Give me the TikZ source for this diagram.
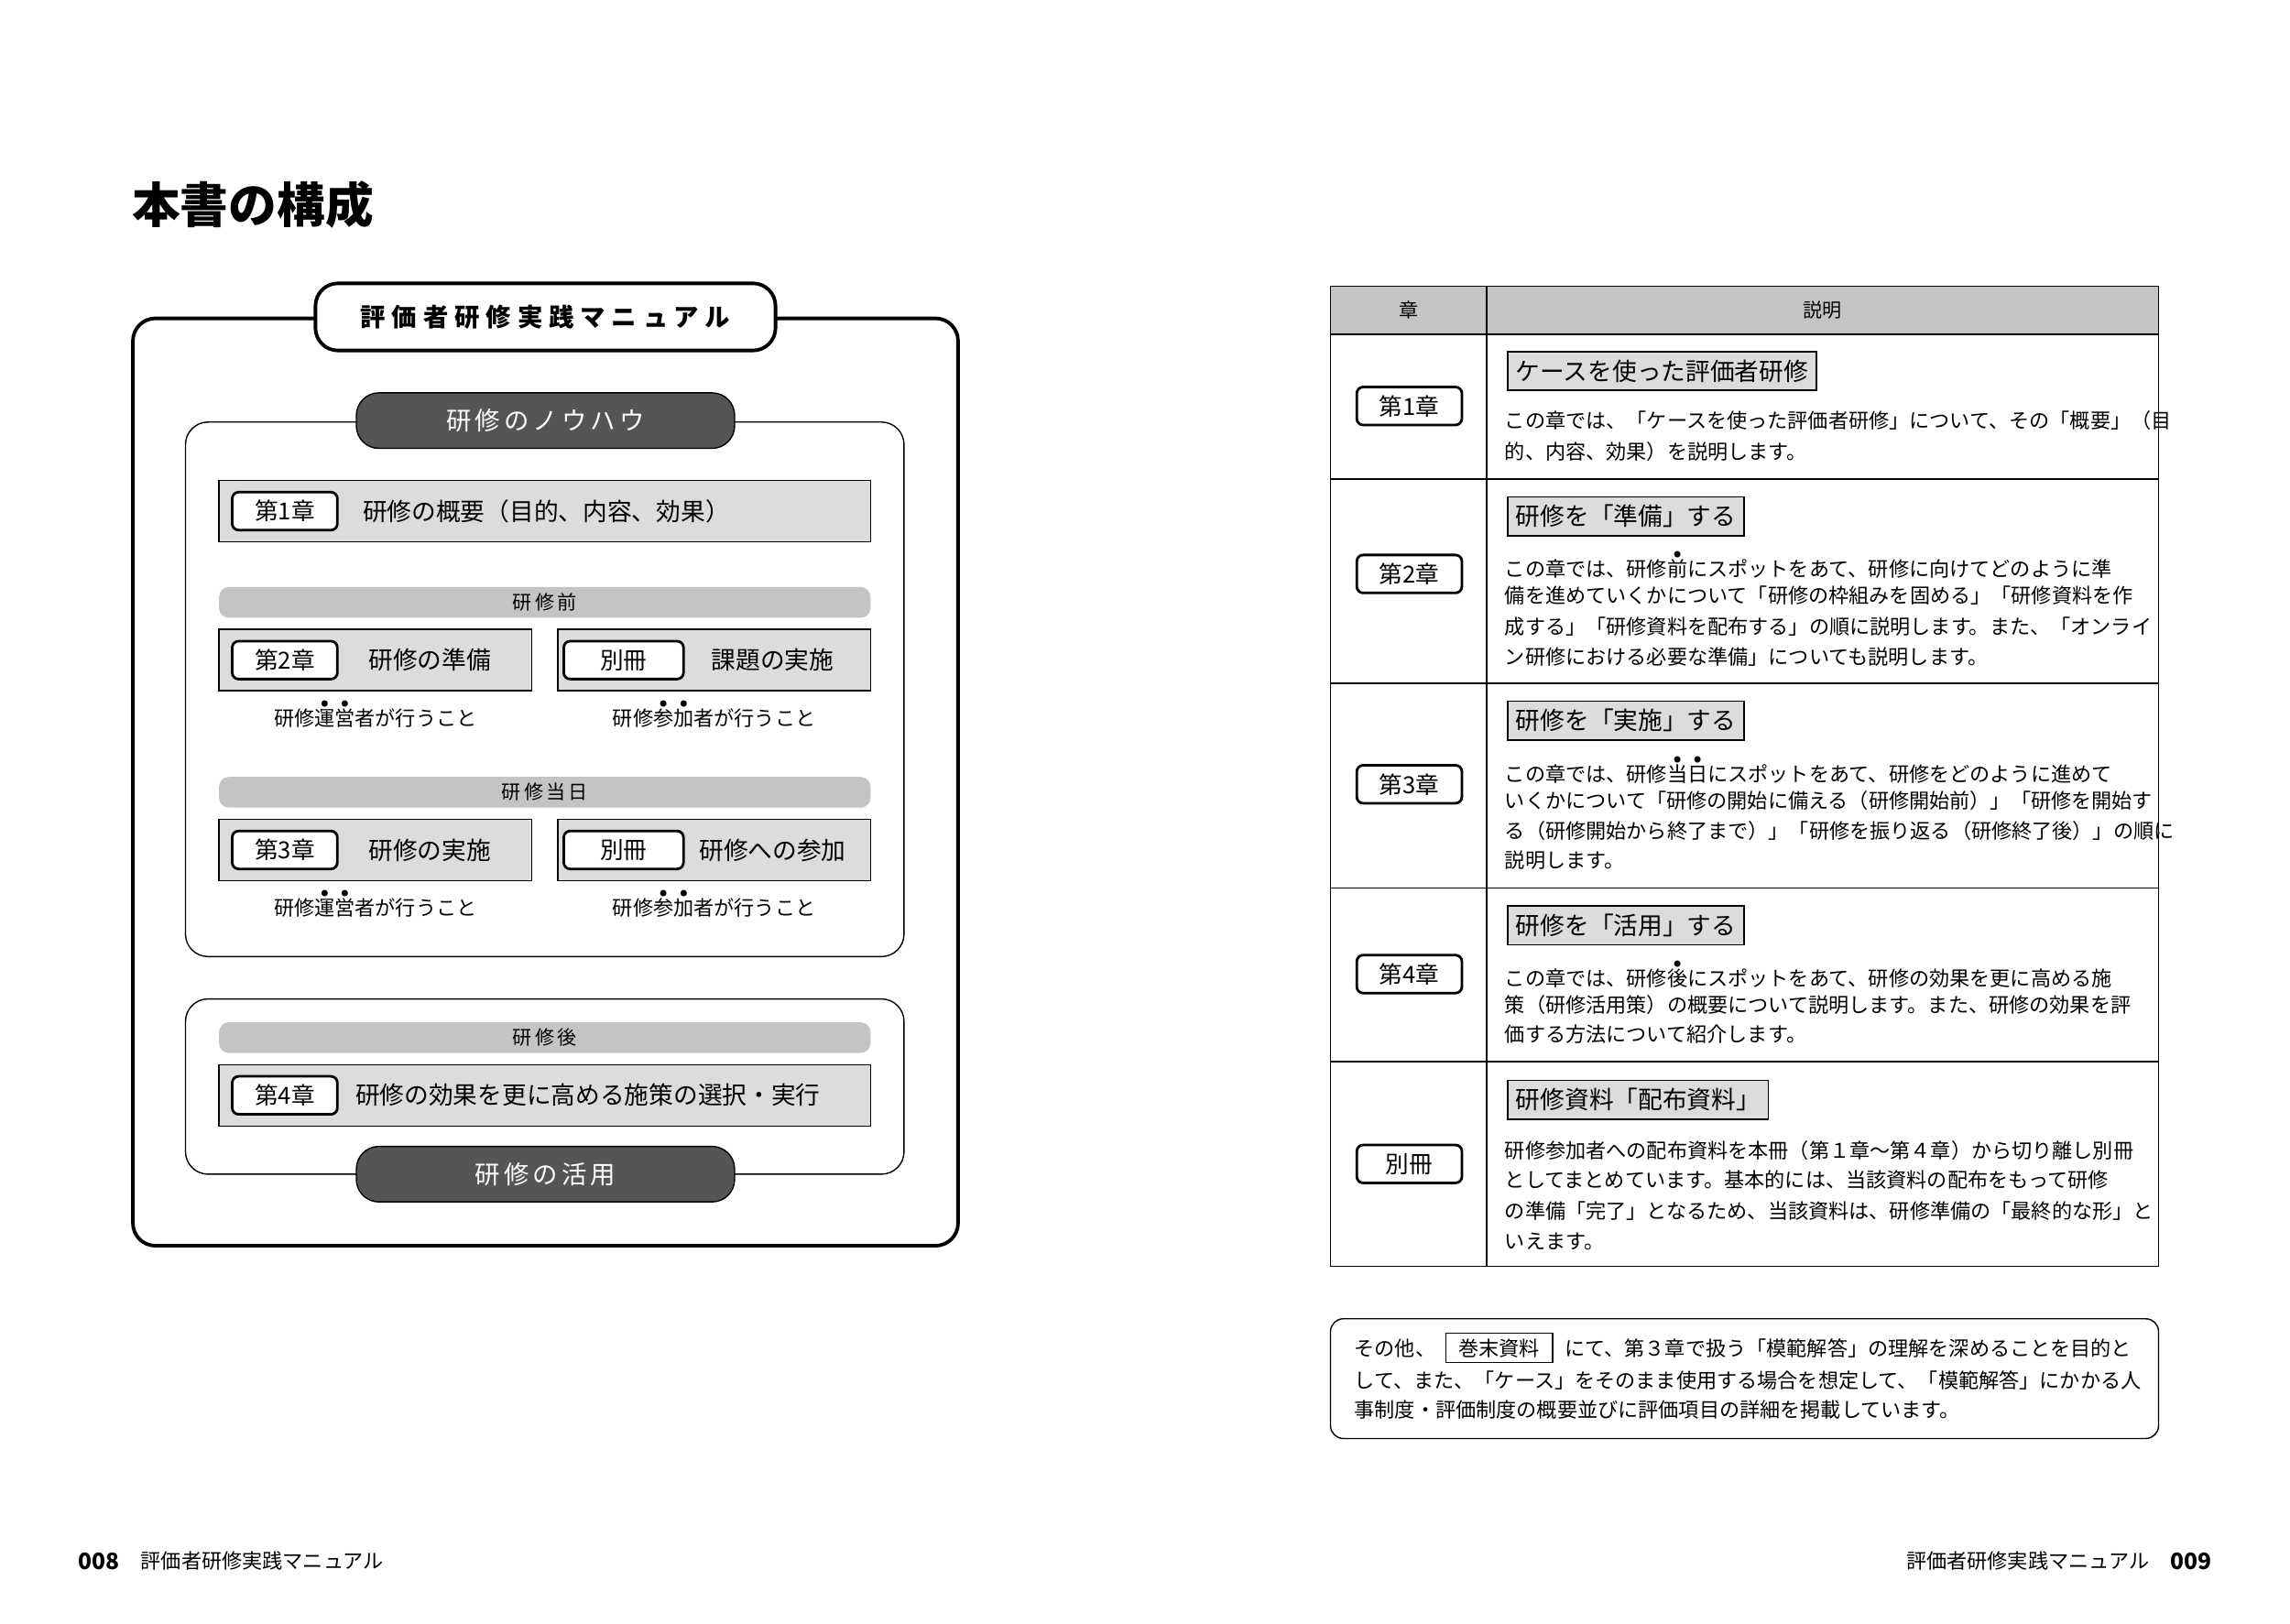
\documentclass[tikz,border=0pt]{standalone}
\usepackage{fontspec}
\setmainfont{Noto Sans CJK JP}
\usetikzlibrary{positioning}
\definecolor{tabdark}{HTML}{555555}
\definecolor{boxgray}{HTML}{DCDCDC}
\definecolor{bargray}{HTML}{C4C4C4}
\newcommand\bou[1]{\leavevmode\makebox[0pt][l]{\makebox[1em]{\raisebox{0.95em}{\scalebox{0.35}{●}}}}#1}
\newcommand\fs[1]{\fontsize{#1}{#1}\selectfont}
\tikzset{
  body/.style={anchor=west, inner sep=0pt, font=\fs{6.3}},
  chlabel/.style={draw, rounded corners=2pt, fill=white, thick, font=\fs{7.3}, inner sep=0pt},
  headbox/.style={draw, fill=boxgray, anchor=west, inner sep=2.5pt, font=\fs{7.6}},
  bartext/.style={inner sep=0pt, font=\fs{6}},
}
\begin{document}
\begin{tikzpicture}[x=0.01594cm, y=-0.01594cm]
\useasboundingbox (0,0) rectangle (1568,1112);
% タイトル
\node[anchor=west, inner sep=0pt, font=\fs{15}\bfseries] (title) at (90,140) {本書の構成};

% 左ページ 構成図
\draw[line width=1.1pt, rounded corners=7pt] (91,218) rectangle (656,853);
\draw[line width=1.1pt, rounded corners=7pt, fill=white] (216,194) rectangle (531,240);
\node[inner sep=0pt, font=\fs{7.8}\bfseries\addfontfeatures{LetterSpace=25}] (manual) at (373.5,217) {評価者研修実践マニュアル};

\draw[rounded corners=7pt] (127,289) rectangle (619,655);
\draw[rounded corners=7pt] (127,684) rectangle (619,804);
\draw[rounded corners=7pt, fill=tabdark] (244,269) rectangle (503,307);
\node[text=white, inner sep=0pt, font=\fs{7.8}\addfontfeatures{LetterSpace=15}] (knowhow) at (373.5,288) {研修のノウハウ};
\draw[rounded corners=7pt, fill=tabdark] (244,785) rectangle (503,823);
\node[text=white, inner sep=0pt, font=\fs{7.8}\addfontfeatures{LetterSpace=15}] (katsuyo) at (373.5,804) {研修の活用};

% 章ボックス
\draw[fill=boxgray] (150,329) rectangle (596,371);
\node[chlabel, minimum width=72*0.01594cm, minimum height=26*0.01594cm] (c1) at (195,350) {第1章};
\node[anchor=west, inner sep=0pt, font=\fs{7.6}] (c1t) at (248,350) {研修の概要（目的、内容、効果）};

\foreach \y/\t in {412.5/研修前, 542.5/研修当日, 710.5/研修後}
  \fill[bargray, rounded corners=3pt] (150,\y-10.5) rectangle (596,\y+10.5)
    node[bartext, black] at (373,\y) {\addfontfeatures{LetterSpace=15}\t};

\foreach \y/\a/\b/\c/\d in {452/第2章/研修の準備/別冊/課題の実施, 582/第3章/研修の実施/別冊/研修への参加}{
  \draw[fill=boxgray] (150,\y-21) rectangle (364,\y+21);
  \draw[fill=boxgray] (382,\y-21) rectangle (596,\y+21);
  \node[chlabel, minimum width=72*0.01594cm, minimum height=26*0.01594cm] at (195,\y) {\a};
  \node[anchor=west, inner sep=0pt, font=\fs{7.6}] at (252,\y) {\b};
  \node[chlabel, minimum width=82*0.01594cm, minimum height=26*0.01594cm] at (427,\y) {\c};
  \node[inner sep=0pt, font=\fs{7.6}] at (\ifx\c\c 529\fi,\y) {\d};
  \node[inner sep=0pt, font=\fs{6.3}] at (257,\y+37) {研修\bou{運}\bou{営}者が行うこと};
  \node[inner sep=0pt, font=\fs{6.3}] at (489,\y+37) {研修\bou{参}\bou{加}者が行うこと};
}

\draw[fill=boxgray] (150,729) rectangle (596,771);
\node[chlabel, minimum width=72*0.01594cm, minimum height=26*0.01594cm] (c4) at (195,750) {第4章};
\node[anchor=west, inner sep=0pt, font=\fs{7.6}] (c4t) at (243,750) {研修の効果を更に高める施策の選択・実行};

% 右ページ 表
\draw[fill=bargray] (911,196) rectangle (1478,229);
\node[bartext] (hch) at (964.5,212.5) {章};
\node[bartext] (hex) at (1248,212.5) {説明};
\draw (911,196) rectangle (1478,867);
\draw (1018,196) -- (1018,867);
\foreach \y in {229,328,468,608,727} \draw (911,\y) -- (1478,\y);

\foreach \y/\t in {278/第1章, 393/第2章, 537/第3章, 667/第4章, 797/別冊}
  \node[chlabel, minimum width=72*0.01594cm, minimum height=26*0.01594cm] at (965,\y) {\t};

\node[headbox] (h1) at (1032,254) {ケースを使った評価者研修};
\node[headbox] (h2) at (1032,353.5) {研修を「準備」する};
\node[headbox] (h3) at (1032,493.5) {研修を「実施」する};
\node[headbox] (h4) at (1032,633.5) {研修を「活用」する};
\node[headbox] (h5) at (1032,753) {研修資料「配布資料」};

\node[body] at (1030,288) {この章では、「ケースを使った評価者研修」について、その「概要」（目};
\node[body] at (1030,309) {的、内容、効果）を説明します。};
\node[body] at (1030,387) {この章では、研修\bou{前}にスポットをあて、研修に向けてどのように準};
\node[body] at (1030,408) {備を進めていくかについて「研修の枠組みを固める」「研修資料を作};
\node[body] at (1030,429) {成する」「研修資料を配布する」の順に説明します。また、「オンライ};
\node[body] at (1030,450) {ン研修における必要な準備」についても説明します。};
\node[body] at (1030,527) {この章では、研修\bou{当}\bou{日}にスポットをあて、研修をどのように進めて};
\node[body] at (1030,548) {いくかについて「研修の開始に備える（研修開始前）」「研修を開始す};
\node[body] at (1030,569) {る（研修開始から終了まで）」「研修を振り返る（研修終了後）」の順に};
\node[body] at (1030,589) {説明します。};
\node[body] at (1030,667) {この章では、研修\bou{後}にスポットをあて、研修の効果を更に高める施};
\node[body] at (1030,688) {策（研修活用策）の概要について説明します。また、研修の効果を評};
\node[body] at (1030,708) {価する方法について紹介します。};
\node[body] at (1030,788) {研修参加者への配布資料を本冊（第１章～第４章）から切り離し別冊};
\node[body] at (1030,808) {としてまとめています。基本的には、当該資料の配布をもって研修};
\node[body] at (1030,829) {の準備「完了」となるため、当該資料は、研修準備の「最終的な形」と};
\node[body] at (1030,850) {いえます。};

% 巻末資料
\draw[rounded corners=4pt] (911,903) rectangle (1478,985);
\node[body] (n1) at (927,923) {その他、};
\node[draw, inner sep=0pt, minimum width=73*0.01594cm, minimum height=20*0.01594cm, font=\fs{6.3}] (appx) at (1026.5,923) {巻末資料};
\node[body] (n2) at (1071,923) {にて、第３章で扱う「模範解答」の理解を深めることを目的と};
\node[body] at (927,945) {して、また、「ケース」をそのまま使用する場合を想定して、「模範解答」にかかる人};
\node[body] at (927,965) {事制度・評価制度の概要並びに評価項目の詳細を掲載しています。};

% ページフッター
\node[anchor=west, inner sep=0pt, font=\fs{7}\bfseries] (pl) at (53,1069) {008};
\node[anchor=west, inner sep=0pt, font=\fs{6.3}] (fl) at (96,1069) {評価者研修実践マニュアル};
\node[anchor=east, inner sep=0pt, font=\fs{7}\bfseries] (pr) at (1515,1069) {009};
\node[anchor=east, inner sep=0pt, font=\fs{6.3}] (fr) at (1472,1069) {評価者研修実践マニュアル};
\end{tikzpicture}
\end{document}
